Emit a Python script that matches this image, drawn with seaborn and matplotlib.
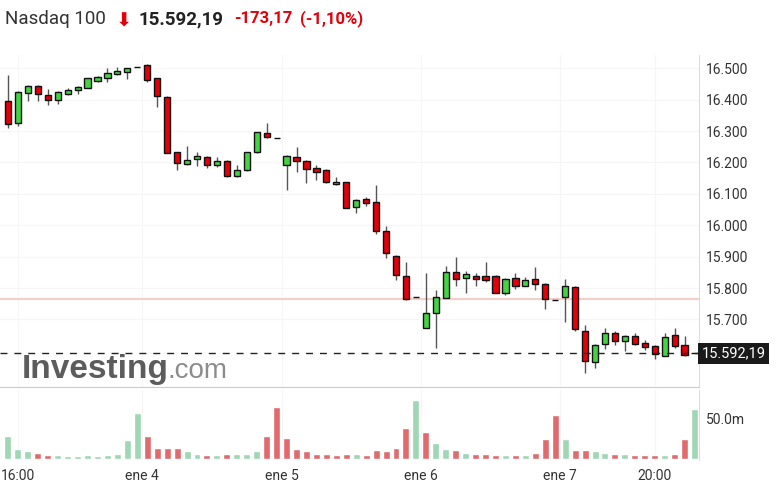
import numpy as np
import pandas as pd
import matplotlib
matplotlib.use("Agg")
import matplotlib.pyplot as plt
import matplotlib.transforms as mtransforms
import seaborn as sns

# 30-min candles, ene 3 -> ene 7 (14 per session)
opens = [16396, 16325, 16422, 16444, 16415, 16398, 16419, 16430, 16438, 16460, 16470, 16483, 16489, 16503,
         16510, 16468, 16408, 16232, 16195, 16211, 16217, 16192, 16205, 16157, 16176, 16232, 16293, 16279,
         16192, 16217, 16205, 16182, 16176, 16131, 16137, 16059, 16083, 16073, 15982, 15902, 15838, 15773,
         15674, 15722, 15769, 15850, 15833, 15839, 15839, 15839, 15783, 15831, 15807, 15828, 15813, 15762,
         15771, 15803, 15663, 15564, 15622, 15656, 15631, 15647, 15624, 15616, 15585, 15650, 15619, 15592.19]
highs = [16479, 16426, 16446, 16446, 16434, 16426, 16438, 16443, 16470, 16475, 16502, 16503, 16501, 16503,
         16512, 16470, 16410, 16234, 16253, 16234, 16219, 16218, 16207, 16192, 16234, 16298, 16327, 16279,
         16224, 16248, 16207, 16192, 16178, 16152, 16139, 16082, 16091, 16128, 15996, 15905, 15884, 15773,
         15849, 15794, 15870, 15898, 15854, 15849, 15884, 15841, 15831, 15849, 15836, 15866, 15817, 15762,
         15828, 15805, 15682, 15621, 15672, 15664, 15649, 15658, 15635, 15618, 15658, 15674, 15646, 15592.19]
lows = [16309, 16317, 16396, 16396, 16383, 16387, 16415, 16419, 16436, 16457, 16457, 16479, 16464, 16503,
        16457, 16375, 16229, 16176, 16192, 16189, 16183, 16185, 16154, 16155, 16174, 16230, 16277, 16279,
        16112, 16169, 16134, 16144, 16134, 16129, 16054, 16038, 16061, 15971, 15895, 15826, 15763, 15773,
        15672, 15610, 15767, 15807, 15783, 15807, 15818, 15783, 15778, 15796, 15805, 15794, 15732, 15762,
        15691, 15663, 15529, 15546, 15606, 15619, 15601, 15620, 15603, 15573, 15583, 15610, 15585, 15592.19]
closes = [16323, 16424, 16444, 16419, 16398, 16424, 16429, 16440, 16468, 16471, 16484, 16492, 16500, 16503,
          16463, 16410, 16231, 16199, 16208, 16222, 16192, 16204, 16156, 16176, 16232, 16296, 16281, 16279,
          16222, 16206, 16179, 16171, 16139, 16138, 16056, 16080, 16072, 15982, 15911, 15842, 15765, 15773,
          15720, 15771, 15850, 15829, 15844, 15829, 15827, 15785, 15829, 15807, 15826, 15813, 15766, 15762,
          15807, 15669, 15568, 15619, 15656, 15631, 15647, 15622, 15613, 15590, 15645, 15616, 15587, 15592.19]
# volume in millions
volumes = [29, 12.8, 9.9, 8.3, 5.4, 5.4, 3.7, 3.7, 5.4, 3.7, 5.4, 7, 24, 58,
           29, 14.5, 14.5, 14.5, 9.9, 7, 5.4, 5.4, 7, 7, 7, 9.9, 29, 64.5,
           27, 12.8, 9.9, 7, 7, 5.4, 7, 7, 5.4, 11.6, 9.9, 14.5, 39.3, 73.6,
           34.3, 20.7, 12.8, 11.6, 8.3, 7, 7, 5.4, 5.4, 5.4, 5.4, 8.3, 25.2, 55,
           25.2, 11.6, 11.6, 9.9, 8.3, 7, 7, 5.4, 5.4, 5.4, 5.4, 7, 25.2, 62.4]

price_ticks = [15700, 15800, 15900, 16000, 16100, 16200, 16300, 16400, 16500]
x_tick_pos = [1, 13.5, 27.5, 41.5, 55.5, 65]
x_tick_labels = ['16:00', 'ene 4', 'ene 5', 'ene 6', 'ene 7', '20:00']
prev_close = 15765.36
last_price = 15592.19

GREEN = '#45d245'
RED = '#e3000b'

sns.set_style("white")
plt.rcParams['font.family'] = ['Roboto', 'DejaVu Sans']

W, H = 784, 496
fig = plt.figure(figsize=(W / 100, H / 100), dpi=100)


def box(x0, y0, x1, y1):
    # pixel box (top-left origin) -> figure fraction rect
    return [x0 / W, 1 - y1 / H, (x1 - x0) / W, (y1 - y0) / H]


ax = fig.add_axes(box(0, 55, 699, 387))
axv = fig.add_axes(box(0, 390, 699, 460))

df = pd.DataFrame({'open': opens, 'high': highs, 'low': lows,
                   'close': closes, 'volume': volumes})
df['i'] = np.arange(len(df))
up = df['close'] >= df['open']
df['dir'] = np.where(df['close'].diff().fillna(1) >= 0, 'up', 'down')

# candles
ax.vlines(df['i'], df['low'], df['high'], color='#555555', lw=1, zorder=2)
ax.bar(df['i'], (df['close'] - df['open']).abs(),
       bottom=df[['open', 'close']].min(axis=1), width=0.62,
       color=np.where(up, GREEN, RED), edgecolor='#111111', linewidth=1, zorder=3)

ax.axhline(prev_close, color='#f6cdc7', lw=1.5, zorder=1)
ax.axhline(last_price, color='#222222', lw=1, ls=(0, (5, 5)), zorder=4)

ax.set_xlim(-0.80, 69.45)
ax.set_ylim(15485, 16542)
ax.yaxis.tick_right()
ax.set_yticks(price_ticks)
ax.set_yticklabels([f"{v / 1000:.3f}" for v in price_ticks])
ax.tick_params(axis='y', length=3, width=0.8, color='#cccccc', labelsize=10,
               labelcolor='#333333', pad=2)
ax.set_xticks(x_tick_pos)
ax.tick_params(axis='x', length=0, labelbottom=False)
ax.grid(True, color='#f6f6f6', lw=0.8)
ax.set_axisbelow(True)
sns.despine(ax=ax, left=True, top=True, right=False, bottom=False)
ax.spines['right'].set_color('#dddddd')
ax.spines['bottom'].set_color('#cccccc')

# price tag
trans = mtransforms.blended_transform_factory(ax.transAxes, ax.transData)
ax.text(1.004, last_price, '15.592,19', transform=trans, color='white',
        fontsize=10.5, va='center', ha='left', clip_on=False, zorder=6,
        bbox=dict(boxstyle='square,pad=0.25', fc='#1a1a1a', ec='none'))

# volume
sns.barplot(data=df, x='i', y='volume', hue='dir',
            palette={'up': '#9fd7b4', 'down': '#e06a6d'}, dodge=False,
            width=0.7, saturation=1, errorbar=None, legend=False, ax=axv)
axv.set_xlim(-0.80, 69.45)
axv.set_ylim(-0.9, 86)
axv.set_xlabel('')
axv.set_ylabel('')
axv.yaxis.tick_right()
axv.set_yticks([50])
axv.set_yticklabels(['50.0m'])
axv.tick_params(axis='y', length=3, width=0.8, color='#cccccc', labelsize=10,
                labelcolor='#333333', pad=2)
axv.set_xticks(x_tick_pos)
axv.set_xticklabels(x_tick_labels)
axv.tick_params(axis='x', length=3, width=0.8, color='#dddddd', labelsize=10,
                labelcolor='#333333', pad=3.5)
axv.grid(axis='x', color='#f6f6f6', lw=0.8)
axv.set_axisbelow(True)
sns.despine(ax=axv, left=True, top=True, right=False, bottom=True)
axv.spines['right'].set_color('#dddddd')

# header
yt = 1 - 19 / H
fig.text(5 / W, yt, 'Nasdaq 100', fontsize=13.5, color='#333333', va='center')
fig.text(116 / W, 1 - 21 / H, '⬇', fontsize=14, color=RED, va='center',
         family=['DejaVu Sans'])
fig.text(138 / W, yt, '15.592,19', fontsize=13.5, fontweight='bold',
         color='#222222', va='center')
fig.text(234 / W, yt, '-173,17', fontsize=12, fontweight='bold', color=RED,
         va='center')
fig.text(300 / W, yt, '(-1,10%)', fontsize=12, fontweight='bold', color=RED,
         va='center')

# watermark
fig.text(22 / W, 1 - 378 / H, 'Investing', fontsize=24, fontweight='bold',
         color='#5c5c5c', va='baseline', family=['Liberation Sans'])
fig.text(168 / W, 1 - 378 / H, '.com', fontsize=20, color='#8c8c8c',
         va='baseline', family=['Liberation Sans'])

fig.savefig('out.png', dpi=100)
